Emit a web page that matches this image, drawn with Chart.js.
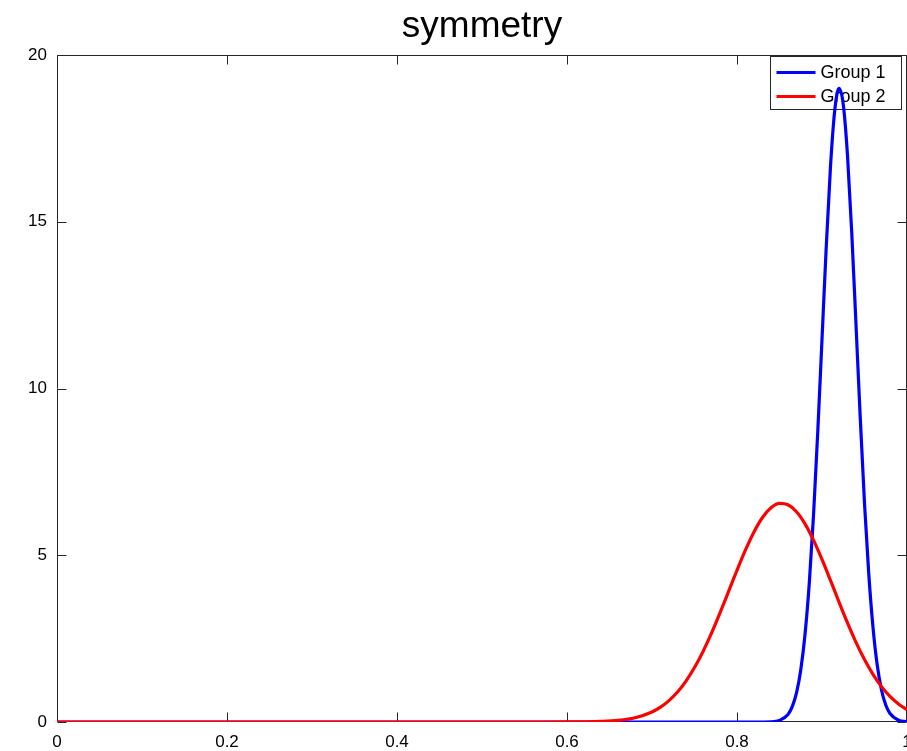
<!DOCTYPE html>
<html>
<head>
<meta charset="utf-8">
<title>symmetry</title>
<script src="https://cdn.jsdelivr.net/npm/chart.js@4/dist/chart.umd.min.js"></script>
<style>
  html, body { margin: 0; padding: 0; background: #ffffff; }
  canvas { display: block; }
</style>
</head>
<body>
<canvas id="chart" width="907" height="751"></canvas>
<script>
// Density estimates of the "symmetry" feature for two groups
const group1X = [0, 0.5, 0.80, 0.82, 0.84, 0.85, 0.86, 0.865, 0.87, 0.875, 0.88, 0.885, 0.89, 0.895, 0.90, 0.905, 0.91, 0.915, 0.92, 0.925, 0.93, 0.935, 0.94, 0.945, 0.95, 0.955, 0.96, 0.965, 0.97, 0.975, 0.98, 0.99, 1.00];
const group1Y = [0, 0, 0, 0, 0.007, 0.047, 0.227, 0.459, 0.871, 1.56, 2.62, 4.15, 6.19, 8.69, 11.47, 14.25, 16.66, 18.34, 19.0, 18.52, 16.99, 14.67, 11.92, 9.12, 6.56, 4.45, 2.84, 1.70, 0.96, 0.51, 0.255, 0.053, 0.009];

const group2X = [0, 0.3, 0.55, 0.60, 0.62, 0.64, 0.66, 0.68, 0.70, 0.71, 0.72, 0.73, 0.74, 0.75, 0.76, 0.77, 0.78, 0.79, 0.80, 0.81, 0.82, 0.83, 0.84, 0.85, 0.86, 0.87, 0.88, 0.89, 0.90, 0.91, 0.92, 0.93, 0.94, 0.95, 0.96, 0.97, 0.98, 0.99, 1.00];
const group2Y = [0, 0, 0, 0.001, 0.005, 0.017, 0.049, 0.128, 0.302, 0.446, 0.642, 0.899, 1.227, 1.632, 2.111, 2.662, 3.269, 3.908, 4.551, 5.161, 5.700, 6.132, 6.424, 6.554, 6.513, 6.303, 5.940, 5.453, 4.874, 4.245, 3.598, 2.972, 2.389, 1.872, 1.428, 1.061, 0.768, 0.541, 0.371];

const seriesLabels = ['Group 1', 'Group 2'];
const seriesColors = ['#0000ff', '#ff0000'];

const chartTitle = 'symmetry';
const xTicks = [0, 0.2, 0.4, 0.6, 0.8, 1];
const yTicks = [0, 5, 10, 15, 20];

const FONT = '"Liberation Sans", Arial, Helvetica, sans-serif';

function pairs(xs, ys) {
  return xs.map((x, i) => ({ x: x, y: ys[i] }));
}

// Title, box frame with inward ticks, and a boxed legend, all under the curves
const backPlugin = {
  id: 'back',
  beforeDatasetsDraw(chart) {
    const { ctx, chartArea: a, scales } = chart;
    ctx.save();
    ctx.fillStyle = '#000000';
    ctx.font = '37px ' + FONT;
    ctx.textAlign = 'center';
    ctx.textBaseline = 'alphabetic';
    ctx.fillText(chartTitle, (a.left + a.right) / 2, 37);

    const left = a.left + 0.5, right = a.right - 0.5, top = a.top + 0.5, bottom = a.bottom - 0.5;
    const tl = 9;
    ctx.strokeStyle = '#262626';
    ctx.lineWidth = 1;
    ctx.beginPath();
    ctx.rect(left, top, right - left, bottom - top);
    xTicks.forEach(v => {
      const px = Math.round(scales.x.getPixelForValue(v)) + 0.5;
      ctx.moveTo(px, bottom); ctx.lineTo(px, bottom - tl);
      ctx.moveTo(px, top); ctx.lineTo(px, top + tl);
    });
    yTicks.forEach(v => {
      const py = Math.round(scales.y.getPixelForValue(v)) + 0.5;
      ctx.moveTo(left, py); ctx.lineTo(left + tl, py);
      ctx.moveTo(right, py); ctx.lineTo(right - tl, py);
    });
    ctx.stroke();

    const bx = 770.5, by = a.top + 1.5, bw = 131, bh = 53;
    ctx.fillStyle = '#ffffff';
    ctx.fillRect(bx, by, bw, bh);
    ctx.strokeStyle = '#262626';
    ctx.lineWidth = 1;
    ctx.strokeRect(bx, by, bw, bh);
    ctx.font = '18px ' + FONT;
    ctx.textBaseline = 'middle';
    ctx.textAlign = 'left';
    seriesLabels.forEach((lab, i) => {
      const y = by + 16 + i * 24;
      ctx.strokeStyle = seriesColors[i];
      ctx.lineWidth = 3;
      ctx.beginPath();
      ctx.moveTo(bx + 6, y); ctx.lineTo(bx + 45, y);
      ctx.stroke();
      ctx.fillStyle = '#000000';
      ctx.fillText(lab, bx + 50, y + 1);
    });
    ctx.restore();
  }
};

new Chart(document.getElementById('chart'), {
  type: 'line',
  data: {
    datasets: [
      {
        label: seriesLabels[0],
        data: pairs(group1X, group1Y),
        borderColor: seriesColors[0],
        borderWidth: 3.2,
        pointRadius: 0,
        fill: false,
        cubicInterpolationMode: 'monotone',
        order: 1
      },
      {
        label: seriesLabels[1],
        data: pairs(group2X, group2Y),
        borderColor: seriesColors[1],
        borderWidth: 3.2,
        pointRadius: 0,
        fill: false,
        cubicInterpolationMode: 'monotone',
        order: 0
      }
    ]
  },
  options: {
    responsive: false,
    animation: false,
    layout: { padding: { top: 55 } },
    plugins: {
      legend: { display: false },
      tooltip: { enabled: false },
      title: { display: false }
    },
    scales: {
      x: {
        type: 'linear',
        min: 0,
        max: 1,
        grid: { display: false, drawTicks: false },
        border: { display: false },
        afterBuildTicks(scale) { scale.ticks = xTicks.map(v => ({ value: v })); },
        ticks: {
          color: '#000000',
          padding: 10,
          maxRotation: 0,
          font: { family: FONT, size: 17 },
          callback: v => String(v)
        },
        afterFit(scale) {
          scale.height = 29;
          scale.paddingLeft = 0;
          scale.paddingRight = 0;
        }
      },
      y: {
        type: 'linear',
        min: 0,
        max: 20,
        grid: { display: false, drawTicks: false },
        border: { display: false },
        afterBuildTicks(scale) { scale.ticks = yTicks.map(v => ({ value: v })); },
        ticks: {
          color: '#000000',
          padding: 10,
          font: { family: FONT, size: 17 },
          callback: v => String(v)
        },
        afterFit(scale) {
          scale.width = 57;
          scale.paddingTop = 0;
          scale.paddingBottom = 0;
        }
      }
    }
  },
  plugins: [backPlugin]
});
</script>
</body>
</html>
